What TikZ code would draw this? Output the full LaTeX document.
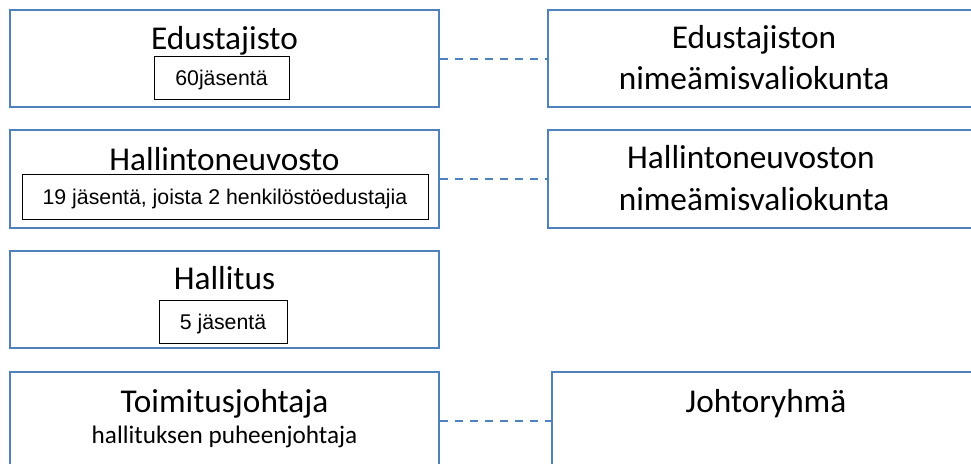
\documentclass[tikz,border=0pt]{standalone}
\usepackage{fontspec}
\newfontfamily\calfont{Carlito}
\newfontfamily\arifont{Liberation Sans}
\definecolor{obl}{RGB}{79,129,189}
\begin{document}
\begin{tikzpicture}[x=1pt,y=-1pt,
  box/.style={draw=obl, line width=2pt, inner sep=0pt},
  ibox/.style={draw=black, line width=1pt, inner sep=0pt, text height=15pt, text depth=0pt,
    font=\arifont\fontsize{21.3}{25}\selectfont},
  ttl/.style={anchor=base, inner sep=0pt, font=\calfont\fontsize{33.3}{40}\selectfont},
  sub/.style={anchor=base, inner sep=0pt, font=\calfont\fontsize{25.2}{30}\selectfont},
  link/.style={draw=obl, line width=2pt, dash pattern=on 8pt off 7pt}]
\useasboundingbox (0,0) rectangle (971,463);
% left column boxes
\node[box, minimum width=429pt, minimum height=97pt] (b1) at (224.5,58.5) {};
\node[box, minimum width=429pt, minimum height=98pt] (b2) at (224.5,179) {};
\node[box, minimum width=429pt, minimum height=97pt] (b3) at (224.5,299.5) {};
\node[box, minimum width=429pt, minimum height=98pt] (b4) at (224.5,421) {};
% right column boxes (running past the right edge)
\node[box, minimum width=452pt, minimum height=97pt] (r1) at (774,58.5) {};
\node[box, minimum width=452pt, minimum height=98pt] (r2) at (774,179) {};
\node[box, minimum width=448pt, minimum height=98pt] (r4) at (776,421) {};
% links
\draw[link] (b1.east) -- (r1.west);
\draw[link] (b2.east) -- (r2.west);
\draw[link] (b4.east) -- (r4.west);
% titles
\node[ttl] (t1) at (224.5,49) {Edustajisto};
\node[ibox, minimum width=135pt, minimum height=43pt] (i1) at (221.5,77.5) {60jäsentä};
\node[ttl] (t2) at (224.5,170) {Hallintoneuvosto};
\node[ibox, minimum width=406pt, minimum height=45pt] (i2) at (225,196.5) {19 jäsentä, joista 2 henkilöstöedustajia};
\node[ttl] (t3) at (224.5,289) {Hallitus};
\node[ibox, minimum width=128pt, minimum height=43pt] (i3) at (223,321.5) {5 jäsentä};
\node[ttl] (t4) at (224.5,412) {Toimitusjohtaja};
\node[sub] (s4) at (224.5,443) {hallituksen puheenjohtaja};
\node[ttl] (rt1a) at (754,48) {Edustajiston};
\node[ttl] (rt1b) at (754,89) {nimeämisvaliokunta};
\node[ttl] (rt2a) at (751,168) {Hallintoneuvoston};
\node[ttl] (rt2b) at (754,210) {nimeämisvaliokunta};
\node[ttl] (rt4) at (766,412) {Johtoryhmä};
\end{tikzpicture}
\end{document}
